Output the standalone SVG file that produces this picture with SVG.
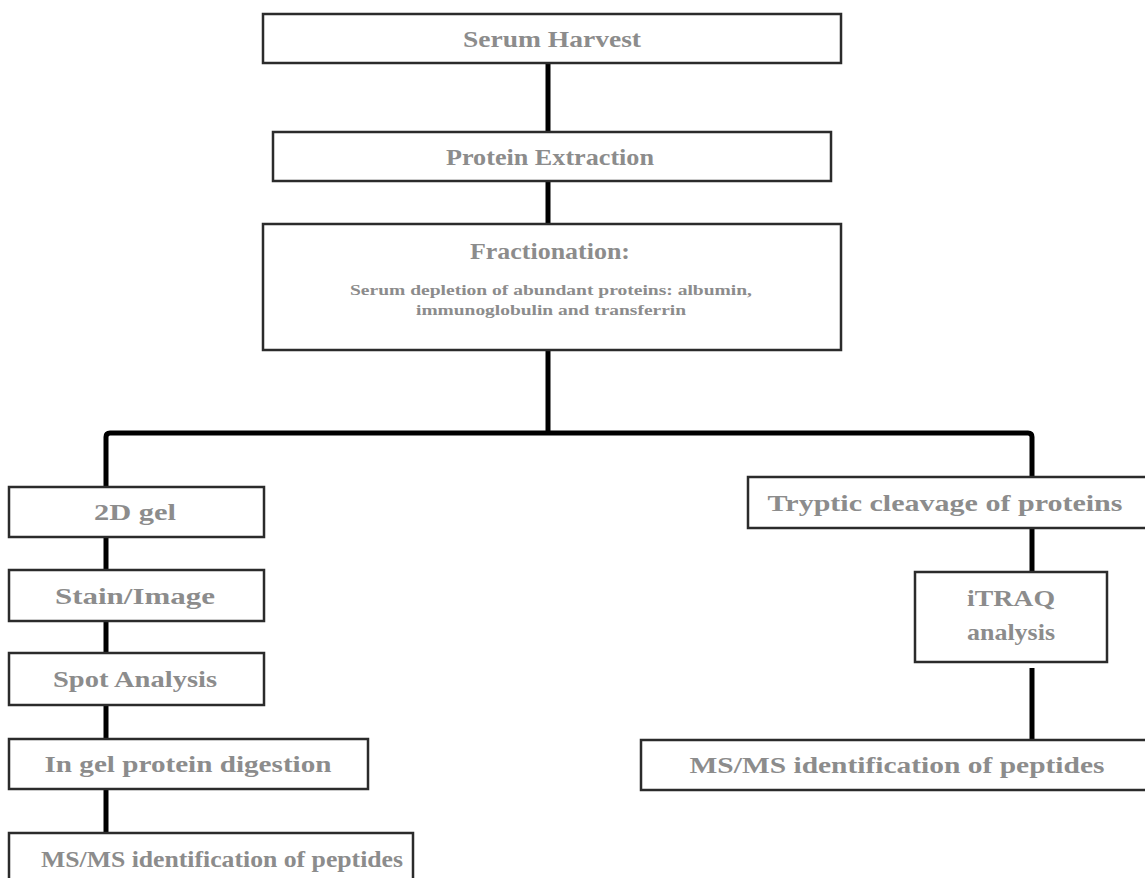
<svg xmlns="http://www.w3.org/2000/svg" width="1145" height="878" viewBox="0 0 1145 878">
<style>
.box{fill:#fff;stroke:#2b2b2b;stroke-width:2.5}
.t{font-family:"Liberation Serif",serif;font-weight:bold;fill:#8c8c8c;font-size:24px;text-anchor:middle}
.s{font-family:"Liberation Serif",serif;font-weight:bold;fill:#8c8c8c;font-size:14px;text-anchor:middle}
.c{fill:none;stroke:#000;stroke-width:5}
</style>
<rect width="1145" height="878" fill="#fff"/>
<g id="connectors">
<path class="c" d="M548,63 V132"/>
<path class="c" d="M548,181 V224"/>
<path class="c" d="M548,350 V433"/>
<path class="c" d="M106,487 V437 Q106,433 110,433 H1028 Q1032,433 1032,437 V477"/>
<path class="c" d="M106,537 V570"/>
<path class="c" d="M106,621 V653"/>
<path class="c" d="M106,705 V739"/>
<path class="c" d="M106,789 V833"/>
<path class="c" d="M1032,528 V572"/>
<path class="c" d="M1032,668 V740"/>
</g>
<g id="serum-harvest">
<rect class="box" x="263" y="14" width="578" height="49"/>
<text class="t" x="552" y="47" textLength="178" lengthAdjust="spacingAndGlyphs">Serum Harvest</text>
</g>
<g id="protein-extraction">
<rect class="box" x="273" y="132" width="558" height="49"/>
<text class="t" x="550" y="165" textLength="208" lengthAdjust="spacingAndGlyphs">Protein Extraction</text>
</g>
<g id="fractionation">
<rect class="box" x="263" y="224" width="578" height="126"/>
<text class="t" x="550" y="259" textLength="160" lengthAdjust="spacingAndGlyphs">Fractionation:</text>
<text class="s" x="551" y="295" textLength="402" lengthAdjust="spacingAndGlyphs">Serum depletion of abundant proteins: albumin,</text>
<text class="s" x="551" y="315" textLength="270" lengthAdjust="spacingAndGlyphs">immunoglobulin and transferrin</text>
</g>
<g id="gel-2d">
<rect class="box" x="9" y="487" width="255" height="50"/>
<text class="t" x="135" y="520" textLength="82" lengthAdjust="spacingAndGlyphs">2D gel</text>
</g>
<g id="stain-image">
<rect class="box" x="9" y="570" width="255" height="51"/>
<text class="t" x="135" y="604" textLength="160" lengthAdjust="spacingAndGlyphs">Stain/Image</text>
</g>
<g id="spot-analysis">
<rect class="box" x="9" y="653" width="255" height="52"/>
<text class="t" x="135" y="687" textLength="164" lengthAdjust="spacingAndGlyphs">Spot Analysis</text>
</g>
<g id="in-gel-digestion">
<rect class="box" x="9" y="739" width="359" height="50"/>
<text class="t" x="188" y="772" textLength="287" lengthAdjust="spacingAndGlyphs">In gel protein digestion</text>
</g>
<g id="msms-left">
<rect class="box" x="9" y="833" width="404" height="60"/>
<text class="t" x="222" y="867" textLength="362" lengthAdjust="spacingAndGlyphs">MS/MS identification of peptides</text>
</g>
<g id="tryptic">
<rect class="box" x="748" y="477" width="412" height="51"/>
<text class="t" x="945" y="511" textLength="355" lengthAdjust="spacingAndGlyphs">Tryptic cleavage of proteins</text>
</g>
<g id="itraq">
<rect class="box" x="915" y="572" width="192" height="90"/>
<text class="t" x="1011" y="606" textLength="88" lengthAdjust="spacingAndGlyphs">iTRAQ</text>
<text class="t" x="1011" y="640" textLength="88" lengthAdjust="spacingAndGlyphs">analysis</text>
</g>
<g id="msms-right">
<rect class="box" x="641" y="740" width="520" height="50"/>
<text class="t" x="897" y="773" textLength="415" lengthAdjust="spacingAndGlyphs">MS/MS identification of peptides</text>
</g>
</svg>
